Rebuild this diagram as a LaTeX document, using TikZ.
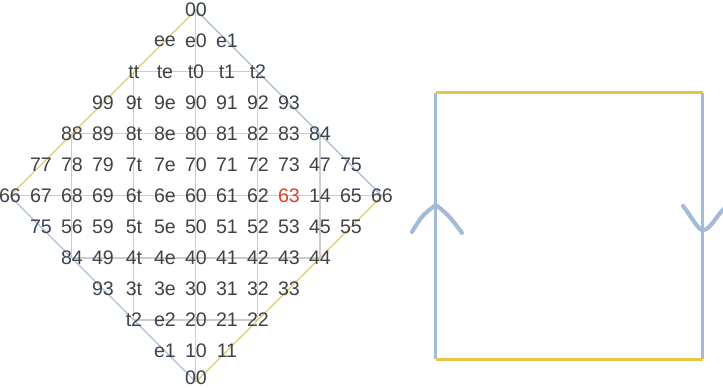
\documentclass[tikz,border=0pt]{standalone}
\usepackage{fontspec}
\setmainfont{Liberation Sans}
\definecolor{gridgrey}{HTML}{CCCCCC}
\definecolor{edgeblue}{HTML}{A3BBD9}
\definecolor{edgeyellow}{HTML}{E8C447}
\definecolor{inkgrey}{HTML}{3E4347}
\definecolor{inkred}{HTML}{D8412F}

\begin{document}
\begin{tikzpicture}[x=5mm,y=5mm,
  lab/.style={text=inkgrey,inner sep=0pt,font=\fontsize{9}{10}\selectfont},
  rim/.style={line width=0.5pt},
  side/.style={line width=1.4pt},
  chev/.style={edgeblue,line width=1.9pt,line cap=round,line join=round}]
\useasboundingbox (-6.32,-6.19) rectangle (17.0,6.32);
% corners of the diamond
\coordinate (top) at (0,6);
\coordinate (lft) at (-6,0);
\coordinate (bot) at (0,-6);
\coordinate (rgt) at (6,0);
\begin{scope}
\clip (top) -- (lft) -- (bot) -- (rgt) -- cycle;
\draw[gridgrey,line width=0.5pt] (-6,-6) grid (6,6);
\end{scope}
\draw[rim,edgeyellow] (top) -- (lft);
\draw[rim,edgeblue] (lft) -- (bot);
\draw[rim,edgeyellow] (bot) -- (rgt);
\draw[rim,edgeblue] (rgt) -- (top);
% labels, one row at a time
\foreach \v/\row in {6/{00},5/{ee,e0,e1},4/{tt,te,t0,t1,t2},
  3/{99,9t,9e,90,91,92,93},2/{88,89,8t,8e,80,81,82,83,84},
  1/{77,78,79,7t,7e,70,71,72,73,47,75},
  0/{66,67,68,69,6t,6e,60,61,62,\textcolor{inkred}{63},14,65,66},
  -1/{75,56,59,5t,5e,50,51,52,53,45,55},-2/{84,49,4t,4e,40,41,42,43,44},
  -3/{93,3t,3e,30,31,32,33},-4/{t2,e2,20,21,22},-5/{e1,10,11},-6/{00}}{
  \pgfmathtruncatemacro\s{abs(\v)-6}
  \foreach \txt [count=\u from \s] in \row
    \node[lab,yshift={(\v==-6)*2pt}] (n\u_\v) at (\u,\v) {\txt};
}
% the square
\coordinate (sqbl) at (7.74,-5.26);
\coordinate (sqtl) at (7.74,3.33);
\coordinate (sqtr) at (16.35,3.33);
\coordinate (sqbr) at (16.35,-5.26);
\draw[side,edgeblue] (sqbl) -- (sqtl);
\draw[side,edgeyellow] (sqtl) -- (sqtr);
\draw[side,edgeblue] (sqtr) -- (sqbr);
\draw[side,edgeyellow] (sqbr) -- (sqbl);
\draw[chev] (6.97,-1.16) .. controls (7.3,-0.62) .. (7.74,-0.29)
  .. controls (8.15,-0.62) .. (8.58,-1.19);
\draw[chev] (15.71,-0.32) .. controls (16.0,-0.7) and (16.2,-1.1) .. (16.35,-1.10)
  .. controls (16.6,-1.1) and (16.8,-0.6) .. (17.06,-0.39);
\end{tikzpicture}
\end{document}
